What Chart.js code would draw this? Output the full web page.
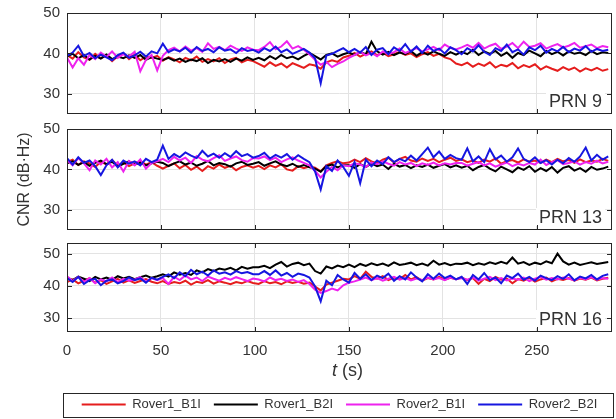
<!DOCTYPE html>
<html>
<head>
<meta charset="utf-8">
<script src="https://cdn.jsdelivr.net/npm/chart.js@4.4.1/dist/chart.umd.min.js"></script>
<style>
  body { margin: 0; background: #fff; }
  #wrap { position: relative; width: 616px; height: 419px; overflow: hidden; }
  canvas { position: absolute; left: 0; }
</style>
</head>
<body>
<div id="wrap">
  <canvas id="prn9Chart" width="616" height="141" style="top:-7px"></canvas>
  <canvas id="prn13Chart" width="616" height="141" style="top:109px"></canvas>
  <canvas id="prn16Chart" width="616" height="196" style="top:223px"></canvas>
</div>
<script>
// time axis (s), one sample every 3 s
const times = [0,3,6,9,12,15,18,21,24,27,30,33,36,39,42,45,48,
    51,54,57,60,63,66,69,72,75,78,81,84,87,90,93,96,99,
    102,105,108,111,114,117,120,123,126,129,
    132,135,138,141,144,147,
    150,153,156,159,162,165,168,171,174,177,180,183,186,189,192,195,198,201,204,207,
    210,213,216,219,222,225,228,231,234,237,240,243,246,249,252,255,258,261,264,267,270,273,276,279,282,285,288];
const seriesNames = ['Rover1_B1I', 'Rover1_B2I', 'Rover2_B1I', 'Rover2_B2I'];
const seriesColors = ['#e51d1d', '#000000', '#ee22ee', '#1616e0'];
const xTicks = [0, 50, 100, 150, 200, 250];
const yTicks = [30, 40, 50];

// PRN 9
const prn9Rover1B1 = [39.6,38.7,40.3,39.0,38.4,39.9,38.8,39.5,38.1,39.3,40.0,38.6,39.7,38.3,39.2,38.9,39.4,
    38.2,39.1,38.5,37.8,38.9,38.3,39.2,37.9,38.6,38.0,38.8,37.6,38.5,38.9,37.8,38.4,38.1,
    37.4,36.7,37.8,36.9,37.5,36.5,37.6,37.0,36.4,37.3,
    37.0,36.2,37.8,38.3,37.9,39.0,
    39.4,40.1,39.2,39.9,40.5,39.5,40.2,39.3,39.8,40.4,39.6,40.0,39.1,39.8,40.3,39.4,39.9,39.0,38.6,37.5,
    37.1,37.7,36.7,37.5,36.9,37.8,36.5,37.2,36.8,37.6,36.3,37.1,36.6,37.3,36.0,36.8,36.2,35.7,36.6,35.9,36.5,35.5,36.3,35.8,36.4,35.7,36.1];
const prn9Rover1B2 = [39.3,39.9,38.8,39.6,38.5,39.4,38.7,39.7,38.6,39.2,38.8,39.5,38.9,39.6,38.4,39.1,38.7,
    38.4,38.9,38.2,38.7,37.9,38.5,38.1,38.8,37.6,38.4,38.0,38.6,37.9,38.7,38.2,39.0,38.4,
    38.9,38.3,39.3,38.6,39.6,38.8,39.2,38.5,39.4,40.1,
    39.3,38.5,39.6,40.0,39.2,39.8,
    40.2,39.6,40.3,39.8,42.9,40.5,39.7,40.4,39.6,40.2,39.8,40.6,39.4,40.3,39.7,40.5,39.9,39.4,40.3,39.7,
    40.4,39.8,40.9,39.6,40.5,39.9,40.6,39.4,40.2,38.9,40.1,39.6,40.7,40.0,39.3,40.6,39.8,40.4,39.5,40.5,39.9,40.2,39.6,40.6,39.8,40.3,40.1];
const prn9Rover2B1 = [39.0,36.5,38.8,37.2,39.6,38.6,40.2,39.1,40.5,38.9,39.8,39.2,40.4,35.6,38.4,39.6,35.8,
    39.4,40.8,41.4,40.5,41.7,40.7,41.3,40.4,42.5,41.1,41.6,40.8,41.9,41.2,40.6,41.5,40.9,
    40.8,41.6,42.8,41.0,41.7,43.0,41.2,41.8,40.9,39.8,
    38.4,37.2,37.9,36.6,37.4,38.0,
    38.9,39.6,40.4,39.5,40.1,39.3,40.5,39.8,40.3,41.2,40.1,40.7,41.3,40.5,41.0,41.6,40.8,42.2,41.4,41.0,
    41.5,42.1,41.4,42.6,41.2,41.9,42.4,41.1,41.7,42.6,41.3,42.9,41.6,41.9,42.5,41.2,41.8,42.3,41.5,41.9,42.6,41.4,41.8,42.2,41.3,41.8,41.5];
const prn9Rover2B2 = [39.4,40.2,41.9,39.3,40.1,38.8,39.7,39.0,38.3,39.6,40.2,38.9,39.5,40.4,39.2,40.5,40.0,
    42.4,40.3,41.0,40.5,41.4,40.2,41.6,40.6,41.1,40.3,41.5,40.7,41.0,40.1,41.3,40.6,40.9,
    40.2,41.3,40.6,41.7,40.3,41.0,39.9,40.5,41.1,40.2,
    38.8,32.6,39.5,39.9,40.6,41.3,
    40.3,41.1,40.2,41.6,39.6,40.9,41.3,39.8,41.5,40.6,42.3,40.4,41.7,40.1,41.9,40.6,41.2,40.0,41.5,40.8,
    39.8,41.3,40.5,42.0,40.4,39.6,41.3,40.6,42.2,40.3,41.0,39.7,41.5,40.8,41.9,40.2,41.1,40.5,41.6,40.3,41.2,40.7,41.8,40.4,41.1,40.6,40.9];

// PRN 13
const prn13Rover1B1 = [41.8,42.4,41.1,42.0,41.5,40.6,41.9,41.2,42.3,41.0,41.7,40.8,41.5,42.1,41.2,41.8,40.9,
    40.2,40.9,41.5,40.3,41.1,39.9,40.7,39.6,40.8,40.2,41.2,40.4,40.9,39.8,40.6,41.0,40.4,
    40.9,40.1,41.0,40.5,41.3,40.0,39.7,40.8,40.3,40.7,
    40.4,39.5,41.0,41.6,42.0,41.5,
    41.7,42.4,41.8,42.8,42.0,41.5,42.4,42.9,41.7,42.6,43.1,42.2,41.9,42.7,42.1,42.6,41.8,42.4,42.9,42.1,
    42.5,41.8,42.2,41.6,42.4,41.9,42.7,41.4,42.0,42.3,41.7,42.5,41.9,42.2,41.6,42.4,41.8,42.6,42.0,42.3,41.6,42.5,41.8,42.2,41.9,42.6,42.1];
const prn13Rover1B2 = [41.5,42.0,41.1,41.8,40.9,41.6,42.2,41.3,41.9,40.7,41.4,42.0,41.2,41.7,41.0,41.5,41.9,
    41.6,40.8,41.5,42.0,41.2,41.7,40.9,41.4,42.1,41.0,41.6,41.3,40.7,41.5,41.9,41.1,41.4,
    41.8,40.9,41.5,42.0,41.2,40.8,41.4,40.6,41.1,40.5,
    40.2,39.4,40.8,41.2,40.5,41.0,
    41.0,40.4,41.3,40.6,41.5,40.8,41.2,40.1,41.4,40.7,41.1,40.3,41.0,40.6,41.2,40.4,40.9,41.3,40.5,41.0,
    40.4,40.9,39.8,40.6,41.1,40.2,39.5,40.7,40.0,39.3,40.5,39.9,40.8,39.4,40.3,39.6,40.6,39.2,40.4,40.8,39.7,40.3,39.4,40.6,39.9,40.2,40.7];
const prn13Rover2B1 = [42.3,41.0,42.8,41.5,39.8,42.2,41.2,42.6,40.5,41.8,39.5,42.1,41.0,42.5,40.2,41.6,42.0,
    42.6,41.8,43.1,42.2,42.9,41.6,43.3,42.4,42.0,42.8,43.5,42.1,42.7,43.2,42.3,41.9,42.8,
    42.7,43.2,42.3,42.9,41.8,42.5,43.0,42.2,41.6,41.0,
    39.6,38.0,39.4,40.6,39.8,41.0,
    40.8,41.5,41.2,40.6,41.7,41.3,42.0,41.4,40.9,41.8,41.2,41.6,40.8,41.5,41.1,41.7,41.0,41.5,41.2,41.6,
    41.6,40.9,41.4,41.8,41.0,41.5,40.7,41.2,41.7,40.8,41.4,41.0,41.6,41.2,42.4,41.1,41.8,42.3,41.3,41.6,42.0,41.2,41.8,41.4,42.2,41.5,41.9];
const prn13Rover2B2 = [42.8,41.2,43.0,41.6,42.2,40.8,38.6,41.0,42.4,40.5,42.2,41.4,42.0,41.0,42.6,41.8,42.4,
    45.9,42.6,43.8,43.0,44.2,43.4,42.8,44.6,43.2,43.9,42.9,44.0,43.1,44.5,43.3,43.8,42.9,
    43.3,44.1,42.7,43.6,42.9,43.8,42.4,43.5,42.6,41.8,
    39.5,35.0,40.8,39.6,42.2,40.6,
    38.4,41.8,36.6,42.4,40.8,42.2,41.3,43.0,41.8,42.6,42.0,43.4,42.2,43.8,45.4,43.0,44.4,42.6,43.6,42.8,
    42.4,45.2,42.0,43.2,41.8,45.0,42.5,43.4,41.9,43.0,45.2,42.6,41.8,43.0,41.6,42.3,41.2,42.4,41.5,42.8,41.9,43.2,45.4,42.2,43.6,42.4,43.2];

// PRN 16
const prn16Rover1B1 = [41.2,42.0,40.8,41.6,42.4,41.0,41.8,40.6,41.4,42.2,41.0,41.7,40.9,41.5,42.1,41.3,40.8,
    41.5,40.6,41.2,40.8,41.6,40.4,41.3,40.9,41.8,40.7,41.4,41.0,40.5,41.2,40.8,41.5,40.9,
    40.6,41.5,40.8,41.2,40.5,41.4,40.9,41.3,40.7,41.0,
    39.8,38.6,40.4,41.0,41.6,42.2,
    42.0,43.0,42.2,44.4,42.8,42.2,43.0,41.8,42.6,42.1,43.4,42.0,42.7,41.6,42.4,42.0,42.8,41.9,42.5,42.1,
    42.6,41.8,42.4,40.6,42.2,41.5,42.8,41.9,42.3,40.8,42.1,41.6,42.5,41.3,42.0,42.6,41.4,42.2,41.8,42.4,41.6,42.3,41.9,42.6,41.7,42.2,42.5];
const prn16Rover1B2 = [42.6,41.8,42.9,42.2,41.5,42.8,42.0,42.6,41.9,43.0,42.3,42.8,42.1,42.7,43.2,42.5,43.0,
    43.6,42.9,44.2,43.5,44.0,43.4,44.8,44.2,45.2,44.6,45.4,45.0,45.6,44.8,45.9,45.3,45.8,
    45.8,46.2,45.5,46.6,47.4,46.0,46.8,47.2,46.4,46.9,
    44.6,43.8,46.0,45.4,46.3,45.8,
    46.6,45.8,46.8,46.2,47.0,46.4,46.9,46.2,47.3,46.5,46.8,47.2,46.4,46.9,46.3,47.8,46.6,47.1,46.4,46.9,
    46.8,47.2,46.4,47.0,46.6,47.3,46.8,47.5,46.9,48.8,46.9,47.4,46.5,47.2,46.7,47.6,47.0,50.0,47.6,46.6,47.2,46.5,46.9,47.3,46.8,47.1,47.4];
const prn16Rover2B1 = [43.0,41.5,42.8,41.2,42.4,40.8,42.0,41.4,42.6,41.2,42.2,41.6,42.0,42.7,41.3,42.4,41.8,
    42.4,40.6,42.8,41.8,43.2,42.0,42.6,41.5,42.9,42.2,41.6,42.5,41.9,42.7,42.1,41.5,42.3,
    42.0,41.4,42.6,41.8,42.2,41.5,42.0,41.2,41.8,40.6,
    38.8,37.8,38.4,39.2,38.6,40.2,
    41.0,41.4,42.0,42.6,41.8,42.4,41.6,42.2,42.8,41.9,42.5,41.7,42.3,41.8,42.6,42.0,42.4,41.8,42.6,42.1,
    42.4,41.9,42.6,41.6,42.2,42.8,41.8,42.4,41.7,42.3,41.9,42.6,41.5,42.2,42.8,41.9,42.4,42.0,42.6,42.2,41.8,42.5,42.0,42.7,41.9,42.4,42.2];
const prn16Rover2B2 = [42.4,41.2,42.8,40.6,41.8,42.2,40.2,41.6,42.0,40.8,41.5,42.6,41.8,42.3,41.0,42.5,41.9,
    42.8,43.6,42.4,44.2,43.0,45.0,43.6,44.4,43.2,44.8,43.8,44.2,43.5,44.6,43.9,44.3,43.6,
    43.6,44.6,43.4,44.8,43.2,44.0,42.8,43.8,43.4,42.6,
    39.8,35.2,41.6,40.2,43.4,42.0,
    41.0,44.0,42.2,43.6,41.8,43.2,42.4,43.8,41.6,43.0,42.0,44.2,42.6,41.4,43.6,42.2,43.8,42.4,43.2,42.0,
    42.8,40.6,43.4,42.0,44.0,41.8,42.6,40.8,43.2,42.4,43.8,41.9,42.8,41.6,43.2,42.4,41.8,43.0,42.2,43.6,41.7,42.9,42.3,43.4,42.0,43.1,43.6];

const FONT = '"Liberation Sans", Arial, sans-serif';
const TEXT = '#333333';

// frame, inward ticks and the PRN tag, drawn on top like a MATLAB axes box
const framePlugin = {
    id: 'frame',
    afterDraw(chart, args, opts) {
        const { ctx, chartArea: a, scales } = chart;
        ctx.save();
        if (opts.label) {
            ctx.font = '18px ' + FONT;
            const w = ctx.measureText(opts.label).width;
            ctx.fillStyle = '#fff';
            ctx.fillRect(a.right - 10 - w - 3, a.bottom - 22, w + 6, 18);
            ctx.fillStyle = TEXT;
            ctx.textAlign = 'right';
            ctx.textBaseline = 'alphabetic';
            ctx.fillText(opts.label, a.right - 10, a.bottom - 7);
        }
        ctx.strokeStyle = '#262626';
        ctx.lineWidth = 1;
        ctx.strokeRect(a.left + 0.5, a.top + 0.5, a.width - 1, a.height - 1);
        ctx.beginPath();
        xTicks.forEach(v => {
            const x = Math.round(scales.x.getPixelForValue(v)) + 0.5;
            ctx.moveTo(x, a.top); ctx.lineTo(x, a.top + 5);
            ctx.moveTo(x, a.bottom); ctx.lineTo(x, a.bottom - 5);
        });
        yTicks.forEach(v => {
            const y = Math.round(scales.y.getPixelForValue(v)) + 0.5;
            ctx.moveTo(a.left, y); ctx.lineTo(a.left + 5, y);
            ctx.moveTo(a.right, y); ctx.lineTo(a.right - 5, y);
        });
        ctx.stroke();

        if (opts.xTitle) {
            // "t (s)" with italic t
            const cx = (a.left + a.right) / 2 + 8;
            const cy = a.bottom + 39;
            ctx.fillStyle = TEXT;
            ctx.textBaseline = 'middle';
            ctx.textAlign = 'left';
            ctx.font = 'italic 18px ' + FONT;
            const wt = ctx.measureText('t').width;
            ctx.font = '18px ' + FONT;
            const ws = ctx.measureText(' (s)').width;
            const x0 = cx - (wt + ws) / 2;
            ctx.font = 'italic 18px ' + FONT;
            ctx.fillText('t', x0, cy);
            ctx.font = '18px ' + FONT;
            ctx.fillText(' (s)', x0 + wt, cy);
        }
        if (opts.legendBox && chart.legend && chart.legend.legendHitBoxes.length) {
            const hb = chart.legend.legendHitBoxes[0];
            const cy = hb.top + hb.height / 2;
            ctx.strokeStyle = '#262626';
            ctx.strokeRect(a.left - 4 + 0.5, Math.round(cy - 12) + 0.5, a.width + 5, 24);
        }
        ctx.restore();
    }
};

function makeDatasets(values) {
    return values.map((v, i) => ({
        label: seriesNames[i],
        data: v,
        borderColor: seriesColors[i],
        backgroundColor: seriesColors[i],
        borderWidth: 2,
        pointRadius: 0,
        tension: 0,
        order: 4 - i
    }));
}

function makeChart(id, values, cfg) {
    const ctx = document.getElementById(id).getContext('2d');
    return new Chart(ctx, {
        type: 'line',
        data: { labels: times, datasets: makeDatasets(values) },
        options: {
            responsive: false,
            animation: false,
            layout: { padding: cfg.padding },
            plugins: {
                legend: cfg.legend ? {
                    display: true,
                    position: 'bottom',
                    fullSize: false,
                    maxHeight: 34,
                    labels: {
                        usePointStyle: true,
                        pointStyle: 'line',
                        pointStyleWidth: 44,
                        padding: 13,
                        color: TEXT,
                        font: { family: FONT, size: 13 },
                        sort: (a, b) => a.datasetIndex - b.datasetIndex
                    }
                } : { display: false },
                tooltip: { enabled: false },
                frame: { label: cfg.label, xTitle: cfg.xLabels, legendBox: cfg.legend }
            },
            scales: {
                x: {
                    type: 'linear',
                    min: 0,
                    max: 290,
                    grid: { color: '#e3e3e3', drawTicks: false },
                    border: { display: false },
                    ticks: {
                        display: cfg.xLabels,
                        stepSize: 50,
                        includeBounds: false,
                        padding: 10,
                        color: TEXT,
                        maxRotation: 0,
                        font: { family: FONT, size: 15 }
                    },
                    afterBuildTicks: s => { s.ticks = xTicks.map(v => ({ value: v })); },
                    afterFit: s => { s.height = cfg.xLabels ? 53 : 0; }
                },
                y: {
                    min: cfg.yMin,
                    max: cfg.yMax,
                    grid: { color: '#e3e3e3', drawTicks: false },
                    border: { display: false },
                    ticks: {
                        padding: 7,
                        color: TEXT,
                        font: { family: FONT, size: 15 }
                    },
                    afterBuildTicks: s => { s.ticks = yTicks.map(v => ({ value: v })); },
                    afterFit: s => { s.width = 67; },
                    title: {
                        display: !!cfg.yTitle,
                        text: cfg.yTitle || '',
                        color: TEXT,
                        padding: { top: 15, bottom: 0 },
                        font: { family: FONT, size: 16 }
                    }
                }
            }
        },
        plugins: [framePlugin]
    });
}

makeChart('prn9Chart', [prn9Rover1B1, prn9Rover1B2, prn9Rover2B1, prn9Rover2B2],
    { padding: { top: 20, bottom: 20, left: 0, right: 4 }, yMin: 25, yMax: 50, label: 'PRN 9', xLabels: false });
makeChart('prn13Chart', [prn13Rover1B1, prn13Rover1B2, prn13Rover2B1, prn13Rover2B2],
    { padding: { top: 20, bottom: 20, left: 0, right: 4 }, yMin: 25, yMax: 50, label: 'PRN 13', xLabels: false, yTitle: 'CNR (dB·Hz)' });
makeChart('prn16Chart', [prn16Rover1B1, prn16Rover1B2, prn16Rover2B1, prn16Rover2B2],
    { padding: { top: 20, bottom: 0, left: 0, right: 4 }, yMin: 25.7, yMax: 53.3, label: 'PRN 16', xLabels: true, legend: true });
</script>
</body>
</html>
